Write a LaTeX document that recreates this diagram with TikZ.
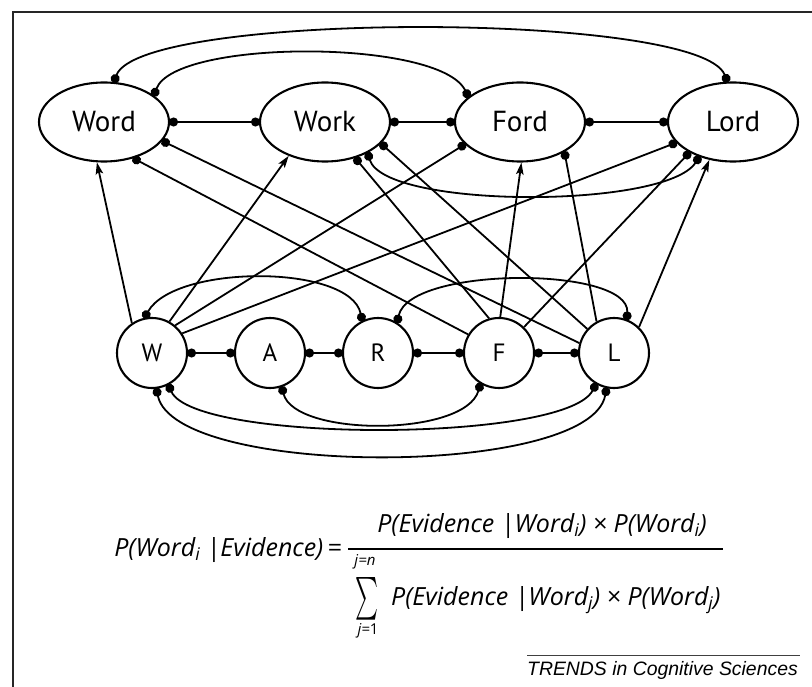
\documentclass[tikz,border=0pt]{standalone}
\usepackage{fontspec}
\usepackage{graphicx}
\setsansfont{PT Sans}
\newfontfamily\formulafont{Open Sans}
\newfontfamily\trendsfont{Liberation Sans}
\usetikzlibrary{arrows.meta,shapes.geometric}
\begin{document}
\begin{tikzpicture}[x=1pt,y=1pt,
  wordnode/.style={ellipse,draw,line width=2.1pt,minimum width=130pt,minimum height=79pt,inner sep=0pt,font=\sffamily\fontsize{29}{33}\selectfont},
  letternode/.style={circle,draw,line width=2.1pt,minimum size=70pt,inner sep=0pt,font=\sffamily\fontsize{25}{29}\selectfont},
  conn/.style={line width=1.8pt},
  inh/.style={conn,{Circle[length=9pt]}-{Circle[length=9pt]},shorten <=-1pt,shorten >=-1pt},
  inhto/.style={conn,-{Circle[length=9pt]},shorten >=-1pt},
  exc/.style={conn,-{Stealth[length=12pt,width=7.5pt,inset=2.5pt]}},
  formula/.style={inner sep=0pt,font=\formulafont\itshape\fontsize{25}{29}\selectfont},
  limit/.style={inner sep=0pt,font=\formulafont\itshape\fontsize{15}{18}\selectfont}
]
\useasboundingbox (0,0) rectangle (812,-687);
\draw[line width=2.2pt,black!85] (13,-687) -- (13,-12) -- (812,-12);

% word level
\node[wordnode] (Word) at (104,-122) {Word};
\node[wordnode] (Work) at (325,-122) {Work};
\node[wordnode] (Ford) at (520,-122) {Ford};
\node[wordnode] (Lord) at (733,-122) {Lord};

% letter level
\node[letternode] (W) at (152,-353) {W};
\node[letternode] (A) at (270,-353) {A};
\node[letternode] (R) at (378,-353) {R};
\node[letternode] (F) at (499,-353) {F};
\node[letternode] (L) at (614,-353) {L};

% word-level inhibition
\draw[inh] (Word.east) -- (Work.west);
\draw[inh] (Work.east) -- (Ford.west);
\draw[inh] (Ford.east) -- (Lord.west);
\draw[inh] (Word.76) .. controls (140,-11) and (700,-11) .. (Lord.98);
\draw[inh] (Word.28) .. controls (175,-38.7) and (440,-38.7) .. (Ford.154);
\draw[inh] (Work.-36) .. controls (385,-209) and (665,-209) .. (Lord.-134);

% letter-level inhibition
\draw[inh] (W.east) -- (A.west);
\draw[inh] (A.east) -- (R.west);
\draw[inh] (R.east) -- (F.west);
\draw[inh] (F.east) -- (L.west);
\draw[inh] (W.102) .. controls (175,-264) and (350,-264) .. (R.116);
\draw[inh] (R.58) .. controls (410,-266) and (630,-266) .. (L.69);
\draw[inh] (A.-71) .. controls (295,-437) and (465,-437) .. (F.-121);
\draw[inh] (W.-63) .. controls (195,-443) and (565,-443) .. (L.-120);
\draw[inh] (W.-83) .. controls (175,-478) and (590,-478) .. (L.-102);

% letter to word
\draw[exc] (W.124) -- (Word.-100);
\draw[exc] (W.61) -- (Work.-137);
\draw[inhto] (W.50) -- (Ford.-158);
\draw[inhto] (W.33) -- (Lord.-160);
\draw[inhto] (F.149) -- (Word.-51);
\draw[inhto] (F.106) -- (Work.-50);
\draw[exc] (F.88) -- (Ford.-88);
\draw[inhto] (F.46) -- (Lord.-145);
\draw[inhto] (L.164) -- (Word.-18);
\draw[inhto] (L.138) -- (Work.-21);
\draw[inhto] (L.119) -- (Ford.-34);
\draw[exc] (L.46) -- (Lord.-122);

% formula
\node[formula,anchor=east] (lhs) at (342,-550) {P(Word\textsubscript{i}\ |Evidence)\,=};
\node[formula] (num) at (542,-526) {P(Evidence\ |Word\textsubscript{i})\ ×\ P(Word\textsubscript{i})};
\coordinate (fracL) at (348,-549);
\coordinate (fracR) at (723,-549);
\draw[line width=1.3pt] (fracL) -- (fracR);
\node[inner sep=0pt] (sum) at (367,-599) {\resizebox{23pt}{32pt}{$\sum$}};
\node[limit] (upper) at (365,-562) {j=n};
\node[limit] (lower) at (368,-631) {j={\upshape 1}};
\node[formula,anchor=west] (den) at (391,-600) {P(Evidence\ |Word\textsubscript{j})\ ×\ P(Word\textsubscript{j})};

% credit
\coordinate (creditL) at (527,-655);
\coordinate (creditR) at (800,-655);
\draw[line width=1pt,black!75] (creditL) -- (creditR);
\node[inner sep=0pt,anchor=east,font=\trendsfont\itshape\fontsize{19.4}{22}\selectfont] (credit) at (798,-670) {TRENDS in Cognitive Sciences};
\end{tikzpicture}
\end{document}
